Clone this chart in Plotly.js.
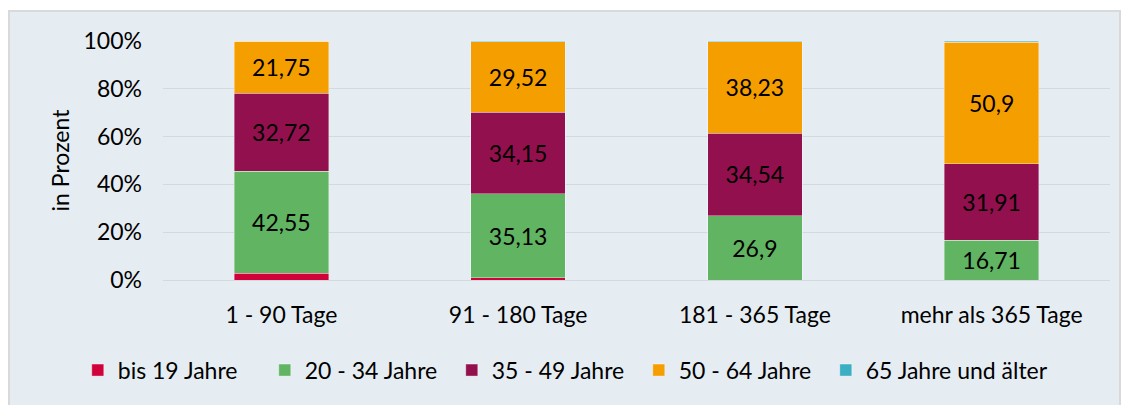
<!DOCTYPE html>
<html>
<head>
<meta charset="utf-8">
<script src="https://cdn.plot.ly/plotly-3.0.1.min.js"></script>
<style>
  html, body { margin: 0; padding: 0; background: #ffffff; overflow: hidden; }
  #frame { position: absolute; left: 8px; top: 10px; width: 1109px; height: 395px;
           border: 2px solid #d9d9d9; background: #e5edf3; }
  #chart { width: 1109px; height: 395px; }
</style>
</head>
<body>
<div id="frame"><div id="chart"></div></div>
<script>
const categories = ["1 - 90 Tage", "91 - 180 Tage", "181 - 365 Tage", "mehr als 365 Tage"];
const seriesNames = ["bis 19 Jahre", "20 - 34 Jahre", "35 - 49 Jahre", "50 - 64 Jahre", "65 Jahre und älter"];
const bis19 = [2.93, 0.9, 0.0, 0.0];
const age20to34 = [42.55, 35.13, 26.9, 16.71];
const age35to49 = [32.72, 34.15, 34.54, 31.91];
const age50to64 = [21.75, 29.52, 38.23, 50.9];
const age65plus = [0.05, 0.3, 0.33, 0.48];
const yTickVals = [0, 20, 40, 60, 80, 100];
const yTickText = ["0%", "20%", "40%", "60%", "80%", "100%"];

const colors = ["#d0023a", "#60b462", "#93104e", "#f59e00", "#3aaec2"];
const allSeries = [bis19, age20to34, age35to49, age50to64, age65plus];
const showLabels = [false, true, true, true, false];
const FONT = "Lato, 'Open Sans', sans-serif";
const FS = 23;

const traces = allSeries.map((vals, i) => ({
  type: "bar",
  name: seriesNames[i],
  x: categories,
  y: vals,
  marker: { color: colors[i], line: { color: "rgba(255,255,255,0.6)", width: 0.6 } },
  text: showLabels[i] ? vals.map(v => String(v).replace(".", ",")) : vals.map(() => ""),
  textposition: showLabels[i] ? "inside" : "none",
  insidetextanchor: "middle",
  textangle: 0,
  textfont: { family: FONT, size: FS, color: "#000000" },
  hoverinfo: "skip"
}));

const layout = {
  width: 1109, height: 395,
  paper_bgcolor: "#e5edf3",
  plot_bgcolor: "#e5edf3",
  barmode: "stack",
  bargap: 0.6,
  margin: { l: 153, r: 9, t: 29, b: 127 },
  font: { family: FONT, size: FS, color: "#000000" },
  xaxis: {
    type: "category",
    showgrid: false,
    showline: false,
    zeroline: false,
    ticks: "",
    ticklabelstandoff: 19,
    tickfont: { family: FONT, size: FS, color: "#000000" }
  },
  yaxis: {
    range: [0, 100],
    tickvals: yTickVals,
    ticktext: yTickText,
    showgrid: true,
    gridcolor: "#d4d9dd",
    gridwidth: 1,
    zeroline: true,
    zerolinecolor: "#d4d9dd",
    zerolinewidth: 1,
    showline: false,
    ticks: "",
    ticklabelstandoff: 20,
    tickfont: { family: FONT, size: FS, color: "#000000" },
    title: { text: "in Prozent", font: { family: FONT, size: FS, color: "#000000" }, standoff: 7 }
  },
  showlegend: true,
  legend: {
    orientation: "h",
    x: -0.09, xanchor: "left",
    y: -0.377, yanchor: "middle",
    traceorder: "normal",
    bgcolor: "rgba(0,0,0,0)",
    font: { family: FONT, size: FS, color: "#000000" },
    itemwidth: 30,
    entrywidth: 142,
    entrywidthmode: "pixels"
  }
};

Plotly.newPlot("chart", traces, layout, { displayModeBar: false, staticPlot: true }).then(gd => {
  // let the last legend label extend past its fixed entry width
  gd.querySelectorAll(".legend [clip-path]").forEach(el => el.removeAttribute("clip-path"));
});
</script>
</body>
</html>
